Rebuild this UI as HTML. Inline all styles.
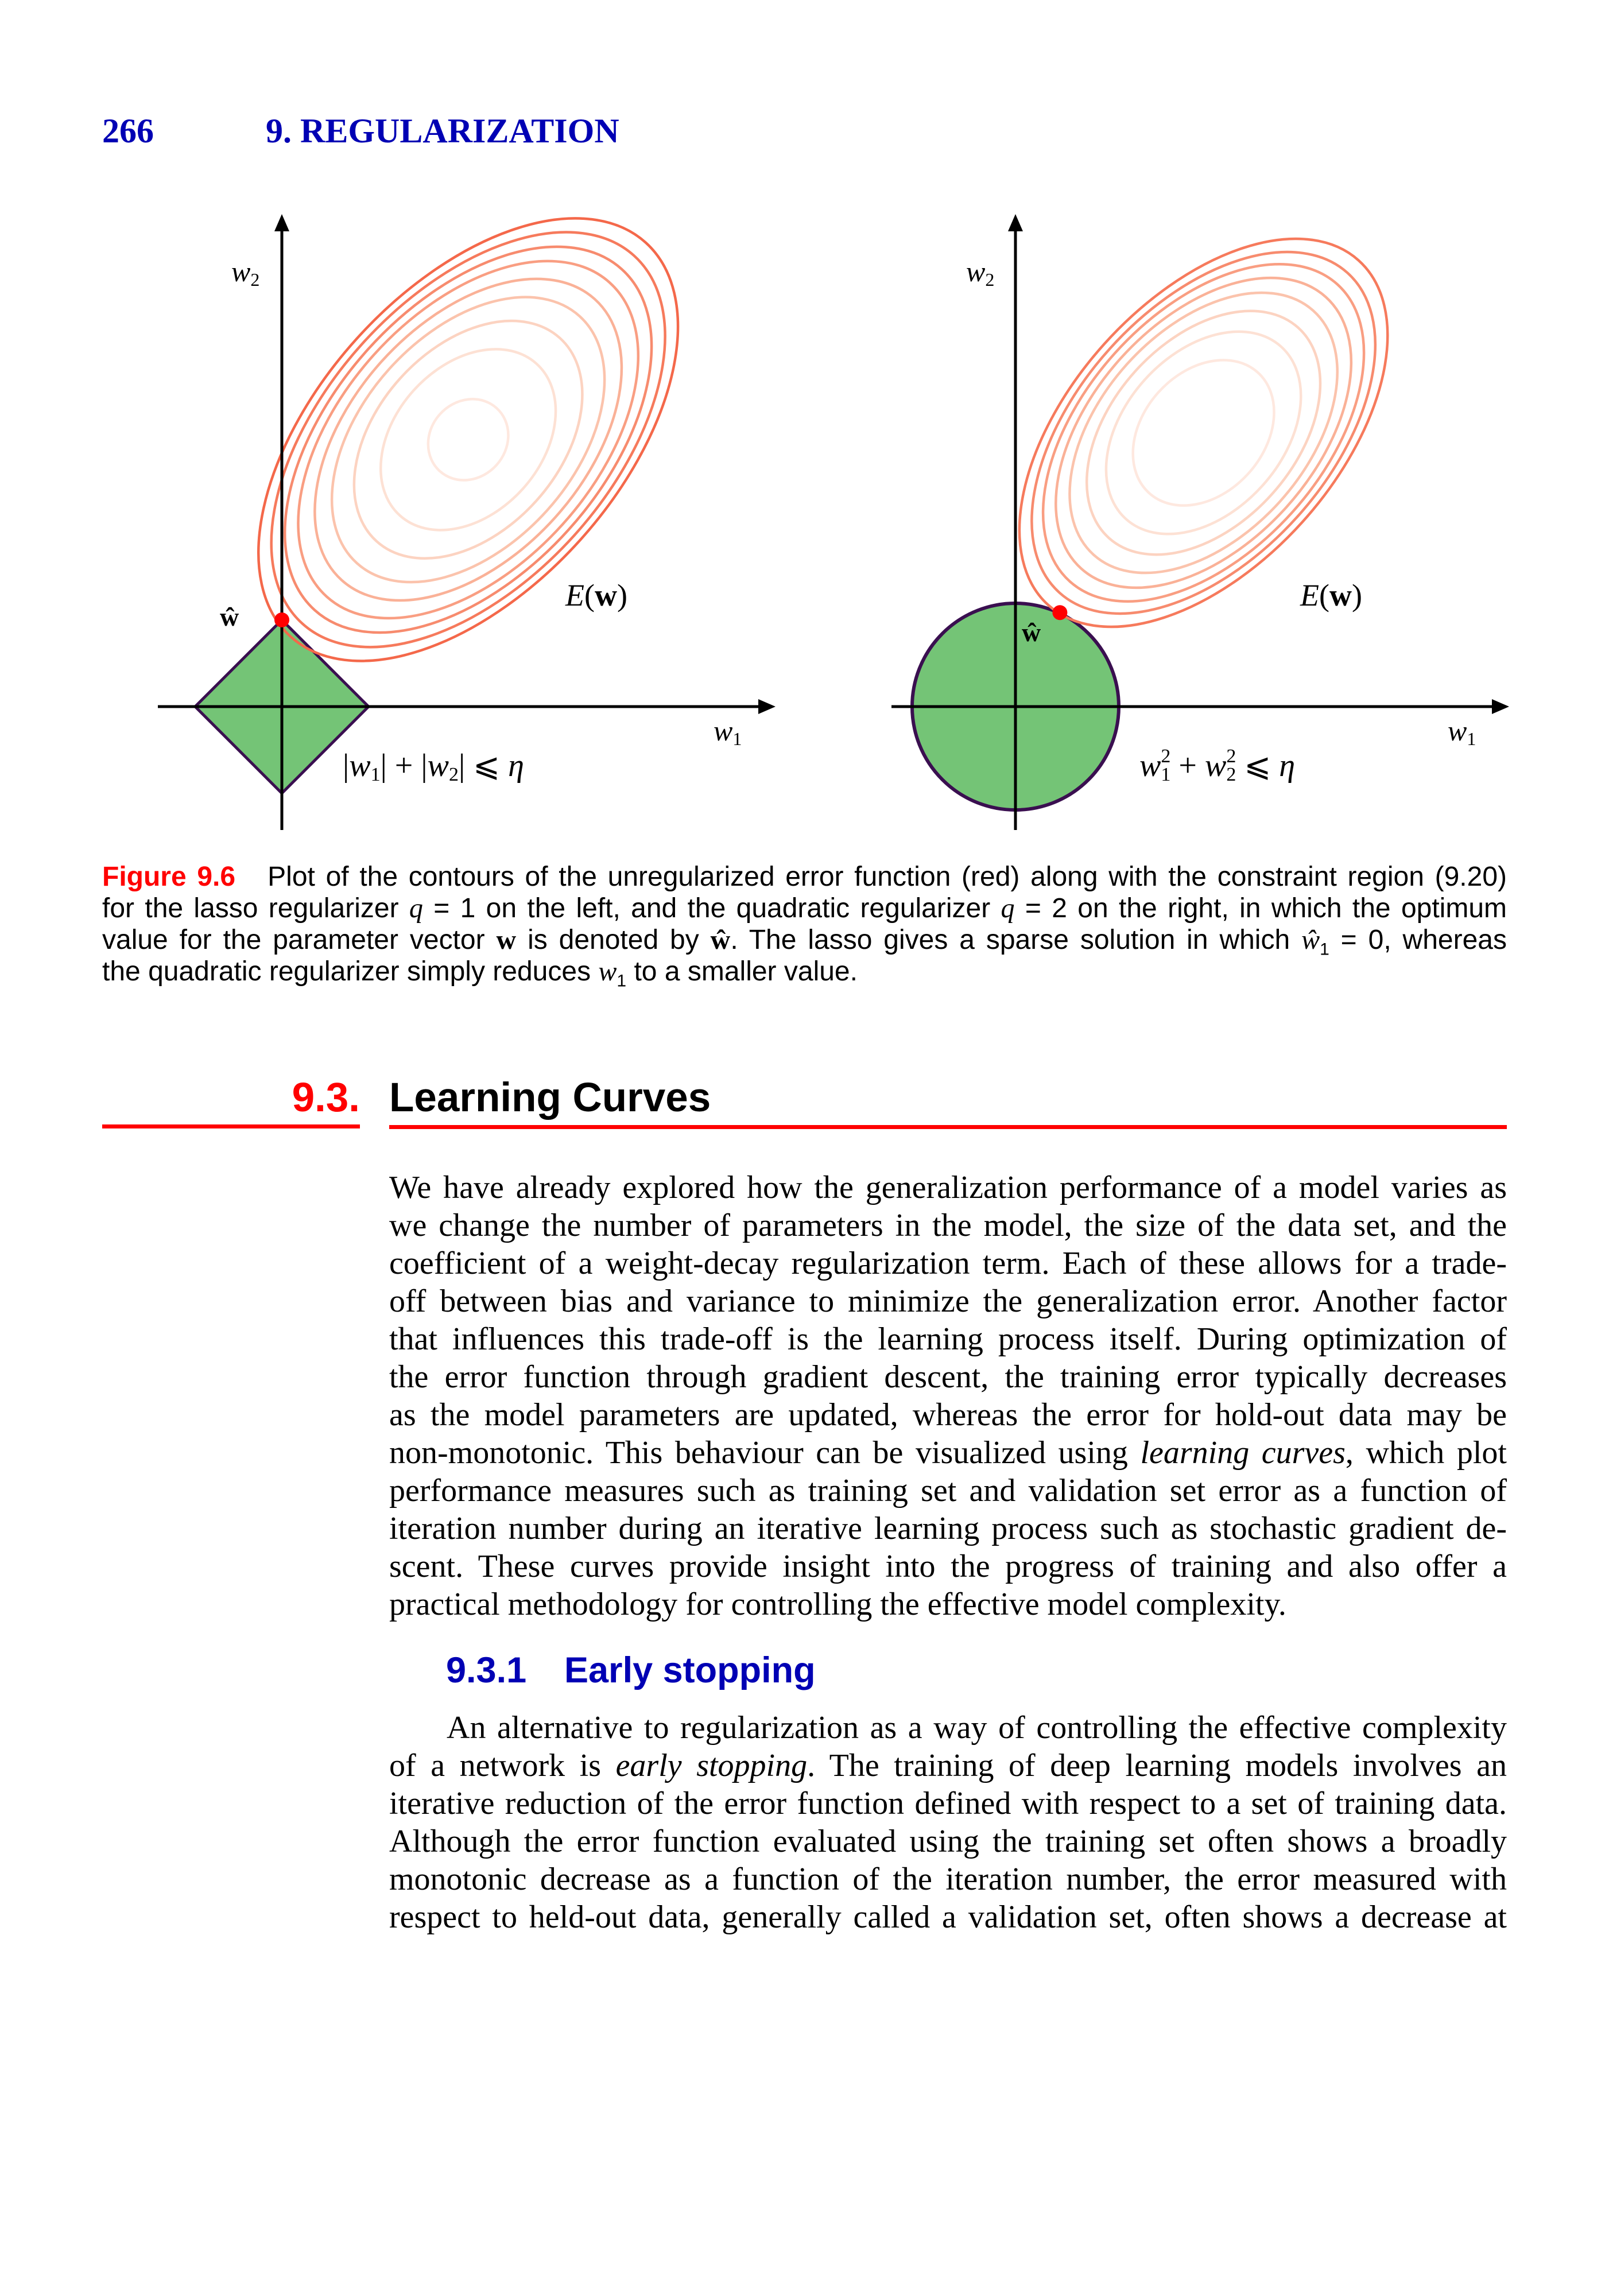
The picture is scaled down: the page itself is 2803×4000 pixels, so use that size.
<!DOCTYPE html>
<html><head><meta charset="utf-8">
<style>
html,body{margin:0;padding:0;background:#fff;}
body{width:2803px;height:4000px;position:relative;overflow:hidden;}
.abs{position:absolute;white-space:nowrap;}
.hdr{font-family:"Liberation Serif",serif;font-weight:bold;color:#0000b4;font-size:60px;}
.cap{position:absolute;left:178px;width:2447px;font-family:"Liberation Sans",sans-serif;font-size:48px;line-height:55px;}
.ln{text-align:justify;text-align-last:justify;white-space:nowrap;height:55px;}
.ln.last{text-align-last:left;}
.body{position:absolute;left:678px;width:1947px;font-family:"Liberation Serif",serif;font-size:56px;line-height:66px;}
.body .ln{height:66px;}
.m{font-family:"Liberation Serif",serif;font-style:italic;}
</style></head>
<body>
<div class="abs hdr" style="left:178px;top:194px;">266</div>
<div class="abs hdr" style="left:463px;top:194px;">9. REGULARIZATION</div>

<svg id="fig" width="2803" height="1480" style="position:absolute;left:0;top:0"></svg>

<div class="cap" style="top:1500px;">
<div class="ln"><b style="color:#f00">Figure 9.6</b>&nbsp;&nbsp; Plot of the contours of the unregularized error function (red) along with the constraint region (9.20)</div>
<div class="ln">for the lasso regularizer <span class="m">q</span> = 1 on the left, and the quadratic regularizer <span class="m">q</span> = 2 on the right, in which the optimum</div>
<div class="ln">value for the parameter vector <b style="font-family:'Liberation Serif',serif">w</b> is denoted by <b style="font-family:'Liberation Serif',serif">ŵ</b>. The lasso gives a sparse solution in which <span class="m">ŵ</span><sub style="font-size:30px">1</sub> = 0, whereas</div>
<div class="ln last">the quadratic regularizer simply reduces <span class="m">w</span><sub style="font-size:30px">1</sub> to a smaller value.</div>
</div>

<div class="abs" style="left:0;top:1872px;width:627px;text-align:right;font-family:'Liberation Sans',sans-serif;font-weight:bold;font-size:71px;color:#f00;">9.3.</div>
<div class="abs" style="left:678px;top:1872px;font-family:'Liberation Sans',sans-serif;font-weight:bold;font-size:71px;color:#000;">Learning Curves</div>
<div class="abs" style="left:178px;top:1959px;width:449px;height:7px;background:#f00;"></div>
<div class="abs" style="left:678px;top:1960px;width:1947px;height:7px;background:#f00;"></div>

<div class="body" style="top:2036px;">
<div class="ln">We have already explored how the generalization performance of a model varies as</div>
<div class="ln">we change the number of parameters in the model, the size of the data set, and the</div>
<div class="ln">coefficient of a weight-decay regularization term. Each of these allows for a trade-</div>
<div class="ln">off between bias and variance to minimize the generalization error. Another factor</div>
<div class="ln">that influences this trade-off is the learning process itself. During optimization of</div>
<div class="ln">the error function through gradient descent, the training error typically decreases</div>
<div class="ln">as the model parameters are updated, whereas the error for hold-out data may be</div>
<div class="ln">non-monotonic. This behaviour can be visualized using <i>learning curves</i>, which plot</div>
<div class="ln">performance measures such as training set and validation set error as a function of</div>
<div class="ln">iteration number during an iterative learning process such as stochastic gradient de-</div>
<div class="ln">scent. These curves provide insight into the progress of training and also offer a</div>
<div class="ln last">practical methodology for controlling the effective model complexity.</div>
</div>

<div class="abs" style="left:777px;top:2874px;font-family:'Liberation Sans',sans-serif;font-weight:bold;font-size:63px;color:#0000b4;">9.3.1</div>
<div class="abs" style="left:983px;top:2874px;font-family:'Liberation Sans',sans-serif;font-weight:bold;font-size:63px;color:#0000b4;">Early stopping</div>

<div class="body" style="top:2977px;">
<div class="ln" style="padding-left:100px">An alternative to regularization as a way of controlling the effective complexity</div>
<div class="ln">of a network is <i>early stopping</i>. The training of deep learning models involves an</div>
<div class="ln">iterative reduction of the error function defined with respect to a set of training data.</div>
<div class="ln">Although the error function evaluated using the training set often shows a broadly</div>
<div class="ln">monotonic decrease as a function of the iteration number, the error measured with</div>
<div class="ln">respect to held-out data, generally called a validation set, often shows a decrease at</div>
</div>

<script>
// contour level scales (outer -> inner)
const leftLevels = [1, 0.934, 0.865, 0.797, 0.713, 0.627, 0.516, 0.385, 0.16];
const rightLevels = [1, 0.928, 0.862, 0.788, 0.708, 0.61, 0.50, 0.35];
const ringColors = ["#f4684a","#f67a5c","#f78b6e","#f99e82","#fab197","#fbc3ac","#fcd3c1","#fde1d4","#fee8df"];
// ellipse centres in data units (w1, w2) per panel
const leftCenter = [2.15, 3.08];
const rightCenter = [1.82, 2.65];
const constraintEta = [1, 1];

const NS = "http://www.w3.org/2000/svg";
const svg = document.getElementById('fig');
function mk(tag, attrs){const e=document.createElementNS(NS,tag);for(const k in attrs)e.setAttribute(k,attrs[k]);svg.appendChild(e);return e;}

function panel(ox, oy, unit, center, levels, A, B, shape, eta, dotPos, name){
  const sx = v => ox + v*unit;
  const sy = v => oy - v*unit;
  if(shape==='diamond'){
    const r=eta*unit;
    const p=mk('polygon',{points:`${ox-r},${oy} ${ox},${oy-r} ${ox+r},${oy} ${ox},${oy+r}`,fill:'#74c476',stroke:'#3a0f50','stroke-width':5});
    
    
  } else {
    const c=mk('circle',{cx:ox,cy:oy,r:eta*unit,fill:'#74c476',stroke:'#3a0f50','stroke-width':6});
    
    
  }
  levels.forEach((s,i)=>{
    const e=mk('ellipse',{cx:0,cy:0,rx:A*s,ry:B*Math.pow(s,0.75),fill:'none',stroke:ringColors[i+(9-levels.length)],'stroke-width':4.5,
      transform:`translate(${sx(center[0])},${sy(center[1])}) rotate(-48)`});
    
    
  });
  const xa=mk('line',{x1:ox-216,y1:oy,x2:ox+835,y2:oy,stroke:'#000','stroke-width':5});
  
  
  const xh=mk('polygon',{points:`${ox+860},${oy} ${ox+830},${oy-13} ${ox+830},${oy+13}`,fill:'#000'});
  
  
  const ya=mk('line',{x1:ox,y1:oy+215,x2:ox,y2:oy-835,stroke:'#000','stroke-width':5});
  
  
  const yh=mk('polygon',{points:`${ox},${oy-858} ${ox-13},${oy-828} ${ox+13},${oy-828}`,fill:'#000'});
  
  
  const d=mk('circle',{cx:sx(dotPos[0]),cy:sy(dotPos[1]),r:13,fill:'#f00'});
  
  
}
panel(491,1231,151,leftCenter,leftLevels,462,262,'diamond',constraintEta[0],[0,1],'left');
panel(1769,1231,180,rightCenter,rightLevels,404,232,'circle',constraintEta[1],[0.43,0.91],'right');

function txt(x,y,html,size,name){
  const t=mk('text',{x:x,y:y,'font-family':'Liberation Serif, serif','font-size':size});
  t.innerHTML=html;
  
  
}
txt(403,490,'<tspan font-style="italic">w</tspan><tspan font-size="32" dy="8">2</tspan>',50,'left-w2-label');
txt(1243,1290,'<tspan font-style="italic">w</tspan><tspan font-size="32" dy="8">1</tspan>',50,'left-w1-label');
txt(985,1055,'<tspan font-style="italic">E</tspan>(<tspan font-weight="bold">w</tspan>)',54,'left-ew-label');
txt(383,1090,'<tspan font-weight="bold">ŵ</tspan>',46,'left-what-label');
txt(597,1352,'|<tspan font-style="italic">w</tspan><tspan font-size="34" dy="8">1</tspan><tspan dy="-8">| + |</tspan><tspan font-style="italic">w</tspan><tspan font-size="34" dy="8">2</tspan><tspan dy="-8">| ⩽ </tspan><tspan font-style="italic">η</tspan>',56,'left-constraint-label');
txt(1683,490,'<tspan font-style="italic">w</tspan><tspan font-size="32" dy="8">2</tspan>',50,'right-w2-label');
txt(2522,1290,'<tspan font-style="italic">w</tspan><tspan font-size="32" dy="8">1</tspan>',50,'right-w1-label');
txt(2265,1055,'<tspan font-style="italic">E</tspan>(<tspan font-weight="bold">w</tspan>)',54,'right-ew-label');
txt(1780,1117,'<tspan font-weight="bold">ŵ</tspan>',46,'right-what-label');
txt(1985,1352,'<tspan font-style="italic">w</tspan><tspan font-size="34" dy="8">1</tspan><tspan font-size="34" dx="-17" dy="-32">2</tspan><tspan dy="24"> + </tspan><tspan font-style="italic">w</tspan><tspan font-size="34" dy="8">2</tspan><tspan font-size="34" dx="-17" dy="-32">2</tspan><tspan dy="24"> ⩽ </tspan><tspan font-style="italic">η</tspan>',56,'right-constraint-label');
</script>
</body></html>
